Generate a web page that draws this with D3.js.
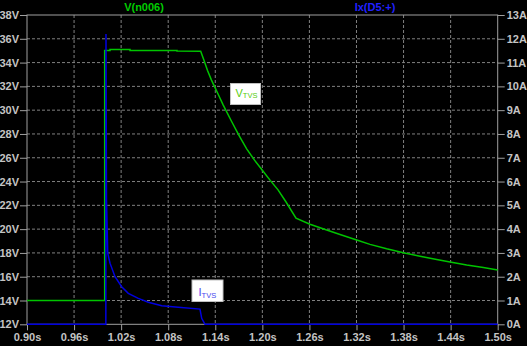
<!DOCTYPE html>
<html>
<head>
<meta charset="utf-8">
<script src="https://cdn.jsdelivr.net/npm/d3@7"></script>
<style>
  body { margin: 0; background: #000; }
  svg { display: block; font-family: "Liberation Sans", Arial, sans-serif; font-weight: bold; }
  .tick text { fill: #c4c4c4; font-size: 11px; font-weight: bold; }
  .tick line { stroke: #a0a0a0; }
  .domain { display: none; }
</style>
</head>
<body>
<svg id="chart" width="527" height="346"></svg>
<script>
// tick values
const timeTicks = [0.90, 0.96, 1.02, 1.08, 1.14, 1.20, 1.26, 1.32, 1.38, 1.44, 1.50];
const voltTicks = [12, 14, 16, 18, 20, 22, 24, 26, 28, 30, 32, 34, 36, 38];
const ampTicks = [0, 1, 2, 3, 4, 5, 6, 7, 8, 9, 10, 11, 12, 13];

// V(n006)
const vTime = [0.90, 0.999, 0.999, 1.0058, 1.0058, 1.0313, 1.0313, 1.0912, 1.0912, 1.1214,
  1.1250, 1.1300, 1.1350, 1.1400, 1.1450, 1.1500, 1.1600, 1.1700, 1.1800, 1.1900, 1.2000,
  1.2100, 1.2200, 1.2300, 1.2429, 1.2607, 1.2820, 1.2990, 1.3203, 1.3372, 1.3585,
  1.3797, 1.4010, 1.4222, 1.4392, 1.4605, 1.4817, 1.50];
const vValue = [14, 14, 35.02, 35.02, 35.10, 35.10, 35.02, 35.02, 34.97, 34.95,
  34.30, 33.35, 32.55, 31.85, 31.15, 30.45, 29.15, 27.90, 26.75, 25.80, 24.95,
  24.10, 23.30, 22.30, 20.92, 20.41, 19.93, 19.55, 19.08, 18.72, 18.35,
  18.02, 17.72, 17.45, 17.23, 16.98, 16.77, 16.57];

// Ix(D5:+)
const iTime = [0.90, 1.0005, 1.0007, 1.0013, 1.0029, 1.0058, 1.0122, 1.0207, 1.0291, 1.0419,
  1.0546, 1.0717, 1.0929, 1.1205, 1.1227, 1.1269, 1.50];
const iValue = [0, 0, 12.2, 5.27, 2.99, 2.57, 2.00, 1.58, 1.30, 1.09,
  0.93, 0.78, 0.72, 0.64, 0.25, 0, 0];

const svg = d3.select("#chart");
const plotLeft = 27, plotRight = 497.7, plotTop = 15, plotBottom = 324.3;

const x = d3.scaleLinear().domain([0.90, 1.50]).range([plotLeft, plotRight]);
const yV = d3.scaleLinear().domain([12, 38]).range([plotBottom, plotTop]);
const yI = d3.scaleLinear().domain([0, 13]).range([plotBottom, plotTop]);

// grid
const grid = svg.append("g")
  .attr("stroke", "#808080")
  .attr("stroke-dasharray", "3,2");
grid.selectAll(".gx").data(timeTicks.slice(1, -1)).enter().append("line")
  .attr("x1", d => x(d)).attr("x2", d => x(d))
  .attr("y1", plotTop).attr("y2", plotBottom);
grid.selectAll(".gy").data(voltTicks.slice(1, -1)).enter().append("line")
  .attr("x1", plotLeft).attr("x2", plotRight)
  .attr("y1", d => yV(d)).attr("y2", d => yV(d));

// frame
svg.append("rect")
  .attr("x", plotLeft).attr("y", plotTop)
  .attr("width", plotRight - plotLeft).attr("height", plotBottom - plotTop)
  .attr("fill", "none").attr("stroke", "#a0a0a0");

// axes
svg.append("g")
  .attr("transform", `translate(${plotLeft},0)`)
  .call(d3.axisLeft(yV).tickValues(voltTicks).tickFormat(d => d + "V").tickSize(7).tickSizeOuter(0).tickPadding(1));

svg.append("g")
  .attr("transform", `translate(${plotRight},0)`)
  .call(d3.axisRight(yI).tickValues(ampTicks).tickFormat(d => d + "A").tickSize(7).tickSizeOuter(0).tickPadding(2));

svg.append("g")
  .attr("transform", `translate(0,${plotBottom})`)
  .call(d3.axisBottom(x).tickValues(timeTicks).tickFormat(d => d3.format(".2f")(d) + "s").tickSize(6).tickSizeOuter(0).tickPadding(3));

// traces
const vLine = d3.line().x((d, i) => x(vTime[i])).y(d => yV(d));
const iLine = d3.line().x((d, i) => x(iTime[i])).y(d => yI(d));

svg.append("path")
  .datum(vValue)
  .attr("d", vLine)
  .attr("fill", "none")
  .attr("stroke", "#00c400")
  .attr("stroke-width", 1.5);

svg.append("path")
  .datum(iValue)
  .attr("d", iLine)
  .attr("fill", "none")
  .attr("stroke", "#0000e0")
  .attr("stroke-width", 1.5);

// titles
svg.append("text").attr("x", 144).attr("y", 11).attr("text-anchor", "middle")
  .attr("fill", "#00cc00").attr("font-size", 11).text("V(n006)");
svg.append("text").attr("x", 375).attr("y", 11).attr("text-anchor", "middle")
  .attr("fill", "#2020ff").attr("font-size", 11).text("Ix(D5:+)");

// labels with subscript
function labelBox(bx, by, w, h, main, sub, color, tx, ty) {
  svg.append("rect").attr("x", bx).attr("y", by).attr("width", w).attr("height", h)
    .attr("fill", "#fff").attr("stroke", "#c0c0c0");
  const t = svg.append("text").attr("x", tx).attr("y", ty)
    .attr("fill", color).attr("font-weight", "normal").attr("font-size", 11);
  t.append("tspan").text(main);
  t.append("tspan").attr("font-size", 7.5).attr("dy", 1.5).text(sub);
}

labelBox(230.5, 83.5, 30, 21, "V", "TVS", "#55cc10", 235.5, 96.5);
labelBox(192, 280, 31, 21.5, "I", "TVS", "#4848ee", 198.5, 296);
</script>
</body>
</html>
